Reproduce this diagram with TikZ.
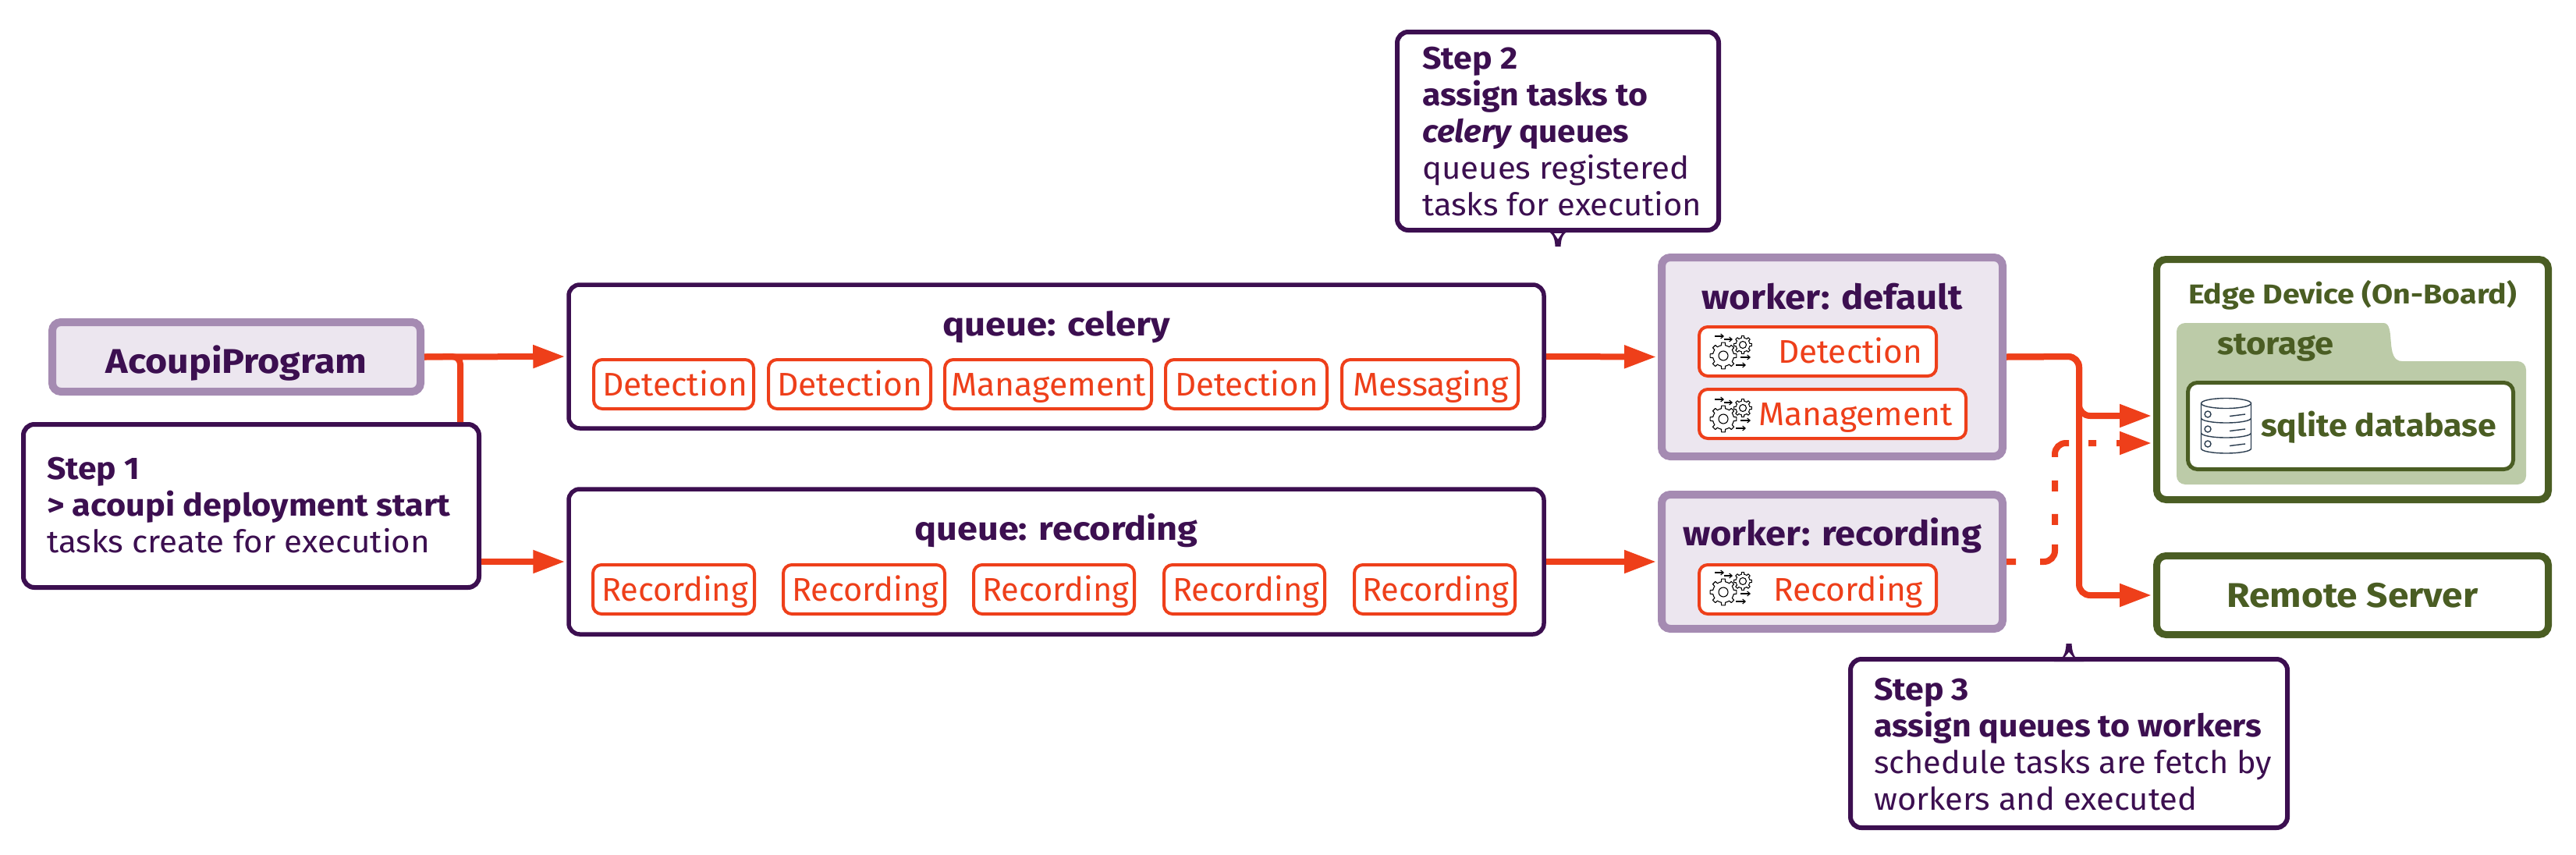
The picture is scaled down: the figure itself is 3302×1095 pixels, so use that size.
\documentclass[tikz,border=0pt]{standalone}
\usepackage{fontspec}
\usepackage{graphicx}
\setmainfont{Fira Sans}
\usetikzlibrary{arrows.meta,calc}
\definecolor{ink}{HTML}{3C0F50}
\definecolor{lilac}{HTML}{A58BB2}
\definecolor{pale}{HTML}{ECE6EF}
\definecolor{flame}{HTML}{EE3F1A}
\definecolor{moss}{HTML}{4A5D23}
\definecolor{sage}{HTML}{BCCBA8}
\definecolor{slate}{HTML}{2C3E50}
\newcommand\fs[1]{\fontsize{#1}{47}\selectfont}
\newcommand\fit[2]{\resizebox{#1pt}{\height}{#2}}
\newcommand\tasknode[7]{\node[taskbox,anchor=base west] (#1) at (#2,#3) {\makebox[\dimexpr#4pt-4pt\relax][l]{\hspace*{#5pt}\fit{#6}{#7}}};}
\tikzset{
  x=1pt,y=-1pt,
  queuebox/.style={draw=ink,line width=5.5pt,rounded corners=14pt,fill=white,inner sep=0pt,anchor=base,text=ink,font=\fs{42}\bfseries},
  taskbox/.style={draw=flame,line width=4pt,rounded corners=11pt,fill=white,inner sep=0pt,text=flame,font=\fs{42},text height=46pt,text depth=17pt},
  workerbox/.style={draw=lilac,line width=10pt,rounded corners=11pt,fill=pale,inner sep=0pt,anchor=base,text=ink,font=\fs{44}\bfseries},
  devicebox/.style={draw=moss,line width=9pt,rounded corners=12pt,fill=white,inner sep=0pt,anchor=base,text=moss,font=\bfseries},
  stepbox/.style={draw=ink,line width=6pt,rounded corners=14pt,fill=white,inner sep=0pt},
  steptext/.style={inner sep=0pt,anchor=base west,align=left,text=ink,font=\fs{40}},
  flowline/.style={draw=flame,line width=8pt,rounded corners=14pt},
  flow/.style={flowline,-{Triangle[length=41pt,width=28pt]},shorten >=2pt},
  gearline/.style={draw=black,line width=1.1pt,line join=round},
  gears/.pic={
    \foreach \a in {0,45,...,315}
      \draw[gearline] (\a-22.5:13.5) -- (\a-11:13.5) -- (\a-8:17) -- (\a+8:17) -- (\a+11:13.5) -- (\a+22.5:13.5);
    \draw[gearline] (0,0) circle[radius=6pt];
    \begin{scope}[shift={(25,-14)}]
      \foreach \a in {0,45,...,315}
        \draw[gearline] (\a-22.5:9) -- (\a-11:9) -- (\a-8:11.5) -- (\a+8:11.5) -- (\a+11:9) -- (\a+22.5:9);
      \draw[gearline] (0,0) circle[radius=4.5pt];
    \end{scope}
    \foreach \p/\q/\r in {-11/1/-25,1/12/-21,22/35/2,16/29/12}
      \draw[gearline,-{Straight Barb[length=3.5pt,width=6pt]}] (\p,\r) -- (\q,\r);
  }
}
\begin{document}
\begin{tikzpicture}
\useasboundingbox (0,0) rectangle (3302,1095);
\fill[white] (0,0) rectangle (3302,1095);

% connectors underneath
\coordinate (trunk) at (590,457);
\coordinate (bus) at (2665,457);
\coordinate (edgein) at (2760,533);
\coordinate (dashin) at (2760,568);
\coordinate (dashturn) at (2634,568);

% left column
\node[workerbox,text height=65pt,text depth=24pt] (acoupi) at (303,478) {\makebox[472pt]{\fit{335}{AcoupiProgram}}};
\node[stepbox,minimum width=584pt,minimum height=209pt] (step1) at (322,648.5) {};
\draw[flowline,rounded corners=10pt] (acoupi.east) -- (trunk) -- (trunk|-step1.north);
\node[steptext] (step1text) at (60,708) {\fit{119}{\bfseries Step 1}\\\fit{517}{\bfseries > acoupi deployment start}\\\fit{491}{tasks create for execution}};

% queues
\node[queuebox,text height=65pt,text depth=119pt] (qcel) at (1354,430) {\makebox[1250pt]{\fit{292}{queue: celery}}};
\node[queuebox,text height=65pt,text depth=121pt] (qrec) at (1354,692) {\makebox[1250pt]{\fit{363}{queue: recording}}};
\tasknode{t1}{759}{507}{209}{11}{186}{Detection}
\tasknode{t2}{983}{507}{212}{11}{186}{Detection}
\tasknode{t3}{1209}{507}{269}{8}{250}{Management}
\tasknode{t4}{1492}{507}{211}{12}{184}{Detection}
\tasknode{t5}{1718}{507}{230}{14}{200}{Messaging}
\tasknode{r1}{758}{770}{211}{11}{188}{Recording}
\tasknode{r2}{1002}{770}{211}{11}{188}{Recording}
\tasknode{r3}{1246}{770}{210}{11}{188}{Recording}
\tasknode{r4}{1490}{770}{210}{11}{188}{Recording}
\tasknode{r5}{1734}{770}{210}{10}{188}{Recording}

\draw[flow] (acoupi.east) -- (qcel.west);
\draw[flow] (step1.east|-qrec.west) -- (qrec.west);

% workers
\node[workerbox,text height=66pt,text depth=189pt] (wdef) at (2348.5,396) {\makebox[437pt]{\fit{335}{worker: default}}};
\node[workerbox,text height=65pt,text depth=107pt] (wrec) at (2348.5,699) {\makebox[437pt]{\fit{383}{worker: recording}}};
\tasknode{w1}{2176}{465}{308}{101}{185}{Detection}
\tasknode{w2}{2176}{545}{346}{76}{249}{Management}
\tasknode{w3}{2176}{770}{308}{95}{192}{Recording}
\pic at (2209,456) {gears};
\pic at (2209,537) {gears};
\pic at (2209,759) {gears};

\draw[flow] (qcel.east) -- (wdef.west);
\draw[flow] (qrec.east) -- (wrec.west);

% right column
\node[devicebox,font=\fs{35}\bfseries,text height=56.5pt,text depth=251.5pt] (edge) at (3015.5,389) {\makebox[502pt]{\fit{421}{Edge Device (On-Board)}}};
\node[devicebox,font=\fs{44}\bfseries,text height=65.5pt,text depth=35.5pt] (remote) at (3015.5,778) {\makebox[502pt]{\fit{322}{Remote Server}}};
\fill[sage,rounded corners=11pt] (2790,414) -- (3044,414) .. controls (3072,414) and (3056,463) .. (3090,463) -- (3238,463) -- (3238,621) -- (2790,621) -- cycle;
\node[inner sep=0pt,anchor=base west,text=moss,font=\fs{40}\bfseries] (storage) at (2842,454) {\fit{149}{storage}};
\node[devicebox,line width=5pt,font=\fs{40}\bfseries,anchor=base west,text height=68.5pt,text depth=42.5pt] (sqlite) at (2802,559) {\makebox[417pt][l]{\hspace*{93.5pt}\fit{302}{sqlite database}}};
% database icon
\begin{scope}[draw=slate,line width=1.4pt]
  \draw (2853.5,517) ellipse[x radius=32pt,y radius=6.5pt];
  \draw (2821.5,517) -- (2821.5,575) arc[start angle=180,end angle=360,x radius=32pt,y radius=6pt] -- (2885.5,517);
  \draw (2821.5,536) arc[start angle=180,end angle=360,x radius=32pt,y radius=6pt];
  \draw (2821.5,555) arc[start angle=180,end angle=360,x radius=32pt,y radius=6pt];
  \foreach \d in {0,19,38}{
    \draw (2830,531+\d) circle[radius=4pt];
    \draw (2858,533.5+\d) -- (2878,531+\d);
  }
\end{scope}

% worker connectors
\draw[flowline,dash pattern=on 12pt off 31pt on 35pt off 25pt on 14pt off 29pt on 14pt off 30pt on 30pt off 25pt on 10pt off 26pt on 90pt,-{Triangle[length=41pt,width=28pt]},shorten >=2pt] (wrec.east) -- (dashturn|-wrec.east) -- (dashturn) -- (dashin);
\draw[flow] (wdef.east) -- (bus) -- (bus|-edgein) -- (edgein);
\draw[flow] (wdef.east) -- (bus) -- (bus|-remote.west) -- (remote.west);

% step 2
\node[stepbox,minimum width=412pt,minimum height=254pt] (step2) at (1997,168) {};
\fill[ink] (1978,295) .. controls (1989,296) and (1993,303) .. (1993.5,316) -- (2000.5,316) .. controls (2001,303) and (2005,296) .. (2016,295) -- cycle;
\fill[white] (1992,299) -- (1997,306.5) -- (2002,299) -- cycle;
\node[steptext] (step2text) at (1823,276) {\fit{122}{\bfseries Step 2}\\\fit{289}{\bfseries assign tasks to}\\\fit{265}{\bfseries{\itshape celery} queues}\\\fit{342}{queues registered}\\\fit{358}{tasks for execution}};

% step 3
\node[stepbox,minimum width=560pt,minimum height=216pt] (step3) at (2652,953) {};
\fill[ink] (2633,848) .. controls (2644,847) and (2648,838) .. (2648.5,825) -- (2655.5,825) .. controls (2656,838) and (2660,847) .. (2671,848) -- cycle;
\fill[white] (2647,842) -- (2652,836) -- (2657,842) -- cycle;
\node[steptext] (step3text) at (2402,1038) {\fit{122}{\bfseries Step 3}\\\fit{497}{\bfseries assign queues to workers}\\\fit{510}{schedule tasks are fetch by}\\\fit{414}{workers and executed}};
\end{tikzpicture}
\end{document}
